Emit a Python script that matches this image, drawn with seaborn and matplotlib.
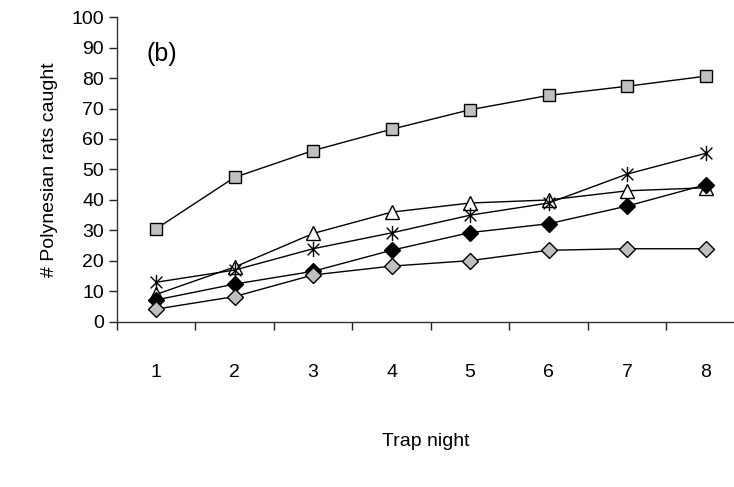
import matplotlib.pyplot as plt
import pandas as pd
import seaborn as sns
from matplotlib.path import Path

# Data
nights = [1, 2, 3, 4, 5, 6, 7, 8]
gray_squares = [30.5, 47.4, 56.2, 63.2, 69.6, 74.3, 77.3, 80.6]
open_triangles = [9.0, 18.0, 29.0, 36.0, 39.0, 40.0, 43.0, 44.0]
asterisks = [13.0, 17.0, 24.0, 29.2, 35.0, 39.0, 48.5, 55.3]
black_diamonds = [7.2, 12.4, 16.6, 23.5, 29.3, 32.2, 38.0, 45.0]
gray_diamonds = [4.2, 8.3, 15.4, 18.3, 20.1, 23.5, 24.0, 24.0]

df = pd.DataFrame({
    "night": nights * 5,
    "value": gray_squares + open_triangles + asterisks + black_diamonds + gray_diamonds,
    "series": (["sq"] * 8 + ["tri"] * 8 + ["ast"] * 8 + ["bd"] * 8 + ["gd"] * 8),
})

# Excel-style asterisk: an X with a vertical bar
ast_marker = Path(
    [(-1, -1), (1, 1), (-1, 1), (1, -1), (0, -1.3), (0, 1.3)],
    [Path.MOVETO, Path.LINETO, Path.MOVETO, Path.LINETO, Path.MOVETO, Path.LINETO],
)

styles = {
    "sq": dict(marker="s", markerfacecolor="#c0c0c0", markersize=9),
    "tri": dict(marker="^", markerfacecolor="white", markersize=10),
    "ast": dict(marker=ast_marker, markerfacecolor="none", markersize=11),
    "bd": dict(marker="D", markerfacecolor="black", markersize=8),
    "gd": dict(marker="D", markerfacecolor="#c0c0c0", markersize=8),
}

sns.set_style("white")
plt.rcParams["font.family"] = ["Liberation Sans", "DejaVu Sans"]
plt.rcParams["text.color"] = "black"
plt.rcParams["axes.labelcolor"] = "black"
plt.rcParams["xtick.color"] = "black"
plt.rcParams["ytick.color"] = "black"

fig = plt.figure(figsize=(7.34, 4.87), dpi=100)
ax = fig.add_axes([0.159, 0.339, 0.841, 0.626])

for name in ["sq", "tri", "ast", "bd", "gd"]:
    sub = df[df["series"] == name]
    sns.lineplot(data=sub, x="night", y="value", ax=ax, color="black",
                 linewidth=1, markeredgecolor="black", markeredgewidth=1,
                 **styles[name])

ax.set_xlim(0.5, 8.36)
ax.set_ylim(0, 100)
ax.set_yticks(range(0, 101, 10))
ax.set_xticks(nights)
ax.set_xticks([n - 0.5 for n in nights], minor=True)
ax.tick_params(axis="x", which="major", bottom=True, length=0, pad=30, labelsize=14)
ax.tick_params(axis="x", which="minor", bottom=True, length=6, width=1,
               direction="out", color="#222222")
ax.tick_params(axis="y", left=True, length=6, width=1, direction="out",
               labelsize=14, color="#222222", pad=3)

for side in ["top", "right"]:
    ax.spines[side].set_visible(False)
for side in ["left", "bottom"]:
    ax.spines[side].set_color("#333333")
    ax.spines[side].set_linewidth(1)

ax.set_xlabel("Trap night", fontsize=14, labelpad=38)
ax.set_ylabel("# Polynesian rats caught", fontsize=14, labelpad=10)
ax.text(0.88, 88, "(b)", fontsize=18, ha="left", va="center")

fig.savefig("out.png", dpi=100)
